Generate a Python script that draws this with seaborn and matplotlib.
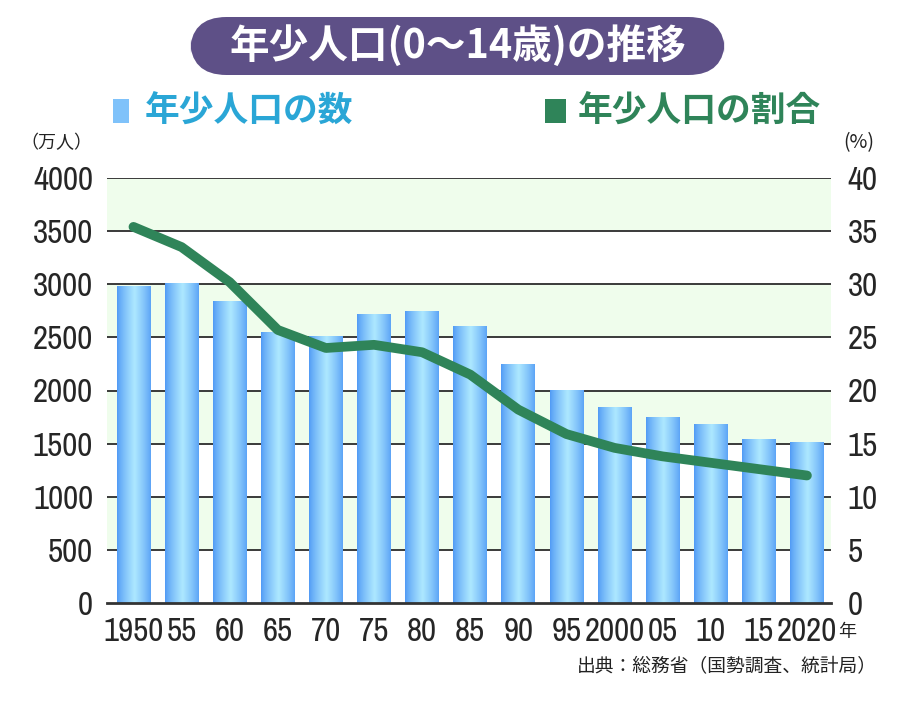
import numpy as np
import pandas as pd
import matplotlib
matplotlib.use("Agg")
import matplotlib.pyplot as plt
import seaborn as sns
from matplotlib import font_manager as fm
from matplotlib.patches import FancyBboxPatch, Rectangle

years = [1950, 1955, 1960, 1965, 1970, 1975, 1980, 1985, 1990, 1995, 2000, 2005, 2010, 2015, 2020]
tick_labels = ["1950", "55", "60", "65", "70", "75", "80", "85", "90", "95", "2000", "05", "10", "15", "2020"]
children = [2979, 3012, 2843, 2553, 2515, 2722, 2751, 2603, 2249, 2001, 1847, 1752, 1680, 1545, 1512]
share = [35.4, 33.5, 30.2, 25.7, 24.0, 24.3, 23.6, 21.5, 18.2, 15.9, 14.6, 13.8, 13.2, 12.6, 12.0]
left_ticks = list(range(0, 4001, 500))
right_ticks = list(range(0, 41, 5))

sns.set_theme(style="white")
plt.rcParams['font.family'] = ['Noto Sans CJK JP', 'DejaVu Sans']

# look for a condensed / narrow font for the numbers
cand = None
for f in fm.fontManager.ttflist:
    nm = (f.name + " " + str(f.fname)).lower()
    if ("narrow" in nm or "condensed" in nm or f.stretch in ("condensed", "semi-condensed")) \
            and "bold" not in nm and "italic" not in nm and "oblique" not in nm:
        if cand is None or ("narrow" in nm and "semi" not in nm):
            cand = f
if cand is not None:
    num_fp = fm.FontProperties(fname=cand.fname)
else:
    num_fp = fm.FontProperties(family="Roboto")

df = pd.DataFrame({"year": tick_labels, "children": children, "share": share,
                   "pos": np.arange(len(years))})

fig = plt.figure(figsize=(9.1, 7.02), dpi=100)
renderer = fig.canvas.get_renderer()
probe = fig.text(0, 0, "4000", fontproperties=num_fp, fontsize=20)
wpx = probe.get_window_extent(renderer).width
probe.remove()
num_size = min(26, 20 * 62 / wpx)

ax = fig.add_axes([107/910, 1-603/702, (831-107)/910, (603-178)/702])

for lo in range(500, 4000, 1000):
    ax.axhspan(lo, lo + 500, color="#effdec", zorder=0, lw=0)
for g in range(500, 4001, 500):
    ax.axhline(g, color="#3a3a3a", lw=1.4, zorder=1)

before = list(ax.patches)
sns.barplot(data=df, x="year", y="children", ax=ax, color="#6ab0f7", width=0.7,
            saturation=1, zorder=2)
bars = [p for p in ax.patches if p not in before]

grad_x = np.linspace(0, 1, 200)
prof = 1 - np.abs(grad_x - 0.52) / 0.52
prof = np.clip(prof, 0, 1) ** 0.8
c_edge = np.array([0.31, 0.60, 0.96])
c_mid = np.array([0.68, 0.91, 1.0])
img = c_edge[None, :] + (c_mid - c_edge)[None, :] * prof[:, None]
img = img[None, :, :]
for p in bars:
    x0, y0 = p.get_x(), p.get_y()
    w, h = p.get_width(), p.get_height()
    p.set_edgecolor("none")
    im = ax.imshow(img, extent=[x0, x0 + w, y0, y0 + h], aspect="auto", zorder=3,
                   interpolation="bilinear")
    im.set_clip_path(p)

ax.set_xlim(-0.55, 14.5)
ax.set_ylim(0, 4000)
ax.set_yticks(left_ticks)
ax.set_yticklabels([str(v) for v in left_ticks], fontproperties=num_fp, fontsize=num_size)
ax.set_xticks(df["pos"])
ax.set_xticklabels(tick_labels, fontproperties=num_fp, fontsize=num_size)
ax.tick_params(axis="y", length=0, pad=10)
ax.tick_params(axis="x", length=0, pad=10)
ax.set_xlabel("")
ax.set_ylabel("")
for s in ["left", "right", "top"]:
    ax.spines[s].set_visible(False)
ax.spines["bottom"].set_color("#333333")
ax.spines["bottom"].set_linewidth(2)
ax.spines["bottom"].set_zorder(6)

ax2 = ax.twinx()
sns.lineplot(data=df, x="pos", y="share", ax=ax2, color="#2f8459", lw=7, zorder=5)
ax2.set_ylim(0, 40)
ax2.set_xlim(-0.55, 14.5)
ax2.set_yticks(right_ticks)
ax2.set_yticklabels([str(v) for v in right_ticks], fontproperties=num_fp, fontsize=num_size)
ax2.tick_params(axis="y", length=0, pad=12)
ax2.set_ylabel("")
ax2.set_xlabel("")
for s in ["left", "right", "top", "bottom"]:
    ax2.spines[s].set_visible(False)

# title
fig.patches.append(FancyBboxPatch((190/910, 1-75/702), (725-190)/910, 58/702,
                                  boxstyle="round,pad=0,rounding_size=0.04",
                                  transform=fig.transFigure, fc="#5e5087", ec="none",
                                  mutation_aspect=910/702))
fig.text(458/910, 1-46/702, "年少人口(0〜14歳)の推移", color="white", fontsize=28.5,
         fontweight="bold", ha="center", va="center")

# legend
fig.patches.append(Rectangle((113/910, 1-123/702), 16/910, 24/702, transform=fig.transFigure,
                             fc="#7fc2fa", ec="none"))
fig.text(145/910, 1-111/702, "年少人口の数", color="#2aa6d6", fontsize=25,
         fontweight="bold", ha="left", va="center")
fig.patches.append(Rectangle((545/910, 1-123/702), 21/910, 24/702, transform=fig.transFigure,
                             fc="#2f8459", ec="none"))
fig.text(578/910, 1-111/702, "年少人口の割合", color="#2f8459", fontsize=25,
         fontweight="bold", ha="left", va="center")

# units and notes
fig.text(20/910, 1-143/702, "（万人）", fontsize=13, color="#222222", ha="left", va="center")
fig.text(843/910, 1-143/702, "(%)", fontsize=14, color="#222222", ha="left", va="center")
fig.text(838/910, 1-632/702, "年", fontsize=13, color="#222222", ha="left", va="center")
fig.text(877/910, 1-667/702, "出典：総務省（国勢調査、統計局）", fontsize=13.5, color="#222222",
         ha="right", va="center")

fig.savefig("out.png", dpi=100)
